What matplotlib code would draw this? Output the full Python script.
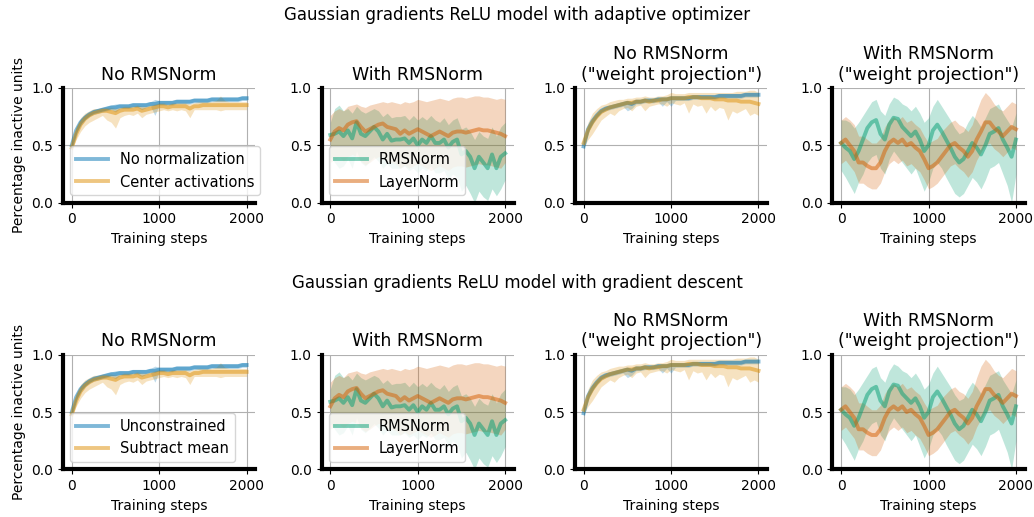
import matplotlib
matplotlib.use('Agg')
import matplotlib.pyplot as plt

steps = list(range(0, 2001, 50))

# --- panel 1: no RMSNorm ---
p1_blue_mean = [0.50, 0.63, 0.70, 0.74, 0.77, 0.79, 0.80, 0.81, 0.82, 0.83,
                0.83, 0.84, 0.84, 0.84, 0.85, 0.85, 0.85, 0.85, 0.86, 0.86,
                0.87, 0.87, 0.87, 0.87, 0.88, 0.88, 0.88, 0.88, 0.89, 0.89,
                0.89, 0.89, 0.90, 0.90, 0.90, 0.90, 0.90, 0.90, 0.90, 0.91, 0.91]
p1_blue_lo = [0.48, 0.60, 0.67, 0.72, 0.75, 0.77, 0.78, 0.79, 0.80, 0.81,
              0.79, 0.82, 0.82, 0.82, 0.83, 0.83, 0.81, 0.83, 0.84, 0.76,
              0.85, 0.85, 0.85, 0.85, 0.86, 0.86, 0.86, 0.86, 0.87, 0.87,
              0.87, 0.87, 0.88, 0.88, 0.88, 0.88, 0.88, 0.88, 0.88, 0.89, 0.89]
p1_blue_hi = [0.53, 0.66, 0.73, 0.77, 0.79, 0.81, 0.82, 0.83, 0.84, 0.85,
              0.86, 0.86, 0.86, 0.86, 0.87, 0.87, 0.87, 0.87, 0.88, 0.90,
              0.89, 0.89, 0.89, 0.89, 0.90, 0.90, 0.90, 0.90, 0.91, 0.91,
              0.91, 0.91, 0.92, 0.92, 0.92, 0.92, 0.92, 0.92, 0.92, 0.93, 0.93]
p1_orange_mean = [0.48, 0.60, 0.68, 0.73, 0.76, 0.78, 0.79, 0.80, 0.80, 0.79,
                  0.78, 0.80, 0.81, 0.81, 0.81, 0.82, 0.80, 0.81, 0.82, 0.83,
                  0.84, 0.84, 0.83, 0.84, 0.84, 0.84, 0.84, 0.82, 0.84, 0.84,
                  0.85, 0.85, 0.85, 0.85, 0.85, 0.85, 0.85, 0.85, 0.85, 0.85, 0.85]
p1_orange_lo = [0.46, 0.55, 0.62, 0.67, 0.70, 0.72, 0.74, 0.76, 0.72, 0.70,
                0.65, 0.74, 0.76, 0.77, 0.76, 0.78, 0.74, 0.77, 0.78, 0.79,
                0.80, 0.81, 0.80, 0.81, 0.80, 0.81, 0.80, 0.74, 0.81, 0.81,
                0.81, 0.81, 0.81, 0.81, 0.80, 0.81, 0.81, 0.81, 0.81, 0.81, 0.81]
p1_orange_hi = [0.52, 0.66, 0.74, 0.78, 0.80, 0.82, 0.82, 0.83, 0.83, 0.83,
                0.82, 0.83, 0.84, 0.84, 0.84, 0.85, 0.84, 0.84, 0.85, 0.86,
                0.87, 0.87, 0.86, 0.87, 0.87, 0.87, 0.87, 0.86, 0.87, 0.88,
                0.88, 0.88, 0.88, 0.89, 0.93, 0.89, 0.88, 0.88, 0.88, 0.88, 0.88]

# --- panel 2: with RMSNorm ---
p2_green_mean = [0.59, 0.60, 0.62, 0.58, 0.63, 0.56, 0.70, 0.60, 0.58, 0.62,
                 0.66, 0.62, 0.55, 0.60, 0.54, 0.55, 0.55, 0.56, 0.52, 0.56,
                 0.50, 0.55, 0.52, 0.58, 0.52, 0.52, 0.55, 0.48, 0.53, 0.55,
                 0.42, 0.45, 0.40, 0.30, 0.40, 0.35, 0.30, 0.42, 0.30, 0.40, 0.43]
p2_green_lo = [0.40, 0.35, 0.30, 0.32, 0.38, 0.30, 0.45, 0.35, 0.32, 0.36,
               0.40, 0.36, 0.30, 0.34, 0.30, 0.30, 0.30, 0.32, 0.28, 0.30,
               0.26, 0.30, 0.28, 0.32, 0.26, 0.26, 0.28, 0.20, 0.25, 0.22,
               0.10, 0.15, 0.08, 0.00, 0.10, 0.05, 0.02, 0.12, 0.06, 0.12, 0.20]
p2_green_hi = [0.70, 0.82, 0.85, 0.80, 0.82, 0.78, 0.84, 0.80, 0.78, 0.80,
               0.82, 0.80, 0.75, 0.78, 0.74, 0.75, 0.75, 0.76, 0.72, 0.76,
               0.72, 0.75, 0.72, 0.76, 0.72, 0.70, 0.74, 0.68, 0.72, 0.74,
               0.64, 0.66, 0.62, 0.55, 0.62, 0.58, 0.56, 0.66, 0.58, 0.66, 0.70]
p2_orange_mean = [0.55, 0.62, 0.65, 0.63, 0.68, 0.70, 0.71, 0.66, 0.62, 0.64,
                  0.66, 0.68, 0.69, 0.66, 0.65, 0.64, 0.60, 0.63, 0.60, 0.62,
                  0.64, 0.62, 0.60, 0.58, 0.60, 0.62, 0.60, 0.58, 0.61, 0.62,
                  0.62, 0.61, 0.62, 0.63, 0.64, 0.63, 0.63, 0.62, 0.61, 0.60, 0.58]
p2_orange_lo = [0.35, 0.38, 0.40, 0.36, 0.40, 0.42, 0.40, 0.36, 0.33, 0.35,
                0.38, 0.40, 0.40, 0.36, 0.35, 0.34, 0.30, 0.33, 0.30, 0.32,
                0.34, 0.32, 0.30, 0.28, 0.30, 0.32, 0.30, 0.28, 0.31, 0.32,
                0.32, 0.31, 0.32, 0.33, 0.34, 0.33, 0.33, 0.32, 0.31, 0.30, 0.35]
p2_orange_hi = [0.76, 0.80, 0.82, 0.80, 0.84, 0.85, 0.86, 0.84, 0.83, 0.85,
                0.86, 0.87, 0.88, 0.87, 0.88, 0.87, 0.86, 0.88, 0.87, 0.88,
                0.90, 0.89, 0.88, 0.89, 0.90, 0.91, 0.90, 0.89, 0.91, 0.92,
                0.92, 0.91, 0.92, 0.93, 0.93, 0.92, 0.92, 0.91, 0.90, 0.91, 0.90]

# --- panel 3: no RMSNorm, weight projection ---
p3_blue_mean = [0.49, 0.64, 0.71, 0.76, 0.80, 0.82, 0.83, 0.84, 0.85, 0.86,
                0.87, 0.86, 0.88, 0.88, 0.89, 0.89, 0.89, 0.90, 0.90, 0.90,
                0.91, 0.91, 0.91, 0.91, 0.91, 0.92, 0.92, 0.92, 0.92, 0.92,
                0.92, 0.93, 0.93, 0.93, 0.93, 0.93, 0.93, 0.94, 0.94, 0.94, 0.94]
p3_blue_lo = [0.47, 0.61, 0.68, 0.74, 0.78, 0.80, 0.81, 0.82, 0.83, 0.84,
              0.80, 0.82, 0.86, 0.86, 0.87, 0.87, 0.87, 0.88, 0.84, 0.88,
              0.84, 0.89, 0.89, 0.89, 0.89, 0.90, 0.90, 0.90, 0.90, 0.90,
              0.90, 0.91, 0.91, 0.91, 0.91, 0.91, 0.91, 0.92, 0.92, 0.92, 0.92]
p3_blue_hi = [0.52, 0.67, 0.74, 0.78, 0.82, 0.84, 0.85, 0.86, 0.87, 0.88,
              0.89, 0.88, 0.90, 0.90, 0.91, 0.91, 0.91, 0.92, 0.92, 0.92,
              0.93, 0.93, 0.93, 0.93, 0.93, 0.94, 0.94, 0.94, 0.94, 0.94,
              0.94, 0.95, 0.95, 0.95, 0.95, 0.95, 0.95, 0.96, 0.96, 0.96, 0.96]
p3_orange_mean = [0.52, 0.63, 0.70, 0.75, 0.79, 0.81, 0.83, 0.84, 0.85, 0.86,
                  0.87, 0.87, 0.88, 0.88, 0.89, 0.88, 0.89, 0.89, 0.90, 0.90,
                  0.91, 0.91, 0.91, 0.91, 0.92, 0.92, 0.92, 0.91, 0.91, 0.91,
                  0.90, 0.90, 0.90, 0.89, 0.89, 0.89, 0.88, 0.88, 0.88, 0.87, 0.86]
p3_orange_lo = [0.48, 0.55, 0.60, 0.66, 0.72, 0.75, 0.78, 0.76, 0.80, 0.82,
                0.83, 0.80, 0.84, 0.85, 0.80, 0.84, 0.85, 0.86, 0.86, 0.84,
                0.87, 0.86, 0.85, 0.87, 0.78, 0.86, 0.84, 0.85, 0.78, 0.84,
                0.80, 0.83, 0.82, 0.72, 0.80, 0.78, 0.80, 0.82, 0.76, 0.78, 0.76]
p3_orange_hi = [0.56, 0.70, 0.78, 0.82, 0.85, 0.86, 0.88, 0.89, 0.90, 0.90,
                0.91, 0.91, 0.92, 0.92, 0.93, 0.92, 0.92, 0.93, 0.93, 0.94,
                0.96, 0.95, 0.95, 0.95, 0.96, 0.96, 0.96, 0.96, 0.96, 0.96,
                0.96, 0.96, 0.96, 0.96, 0.96, 0.97, 0.97, 0.97, 0.98, 0.98, 0.96]

# --- panel 4: with RMSNorm, weight projection ---
p4_green_mean = [0.52, 0.48, 0.45, 0.38, 0.45, 0.55, 0.65, 0.70, 0.72, 0.60,
                 0.55, 0.68, 0.74, 0.73, 0.66, 0.62, 0.58, 0.62, 0.55, 0.45,
                 0.50, 0.63, 0.68, 0.62, 0.55, 0.48, 0.40, 0.35, 0.38, 0.45,
                 0.52, 0.48, 0.42, 0.50, 0.60, 0.62, 0.65, 0.55, 0.48, 0.40, 0.55]
p4_green_lo = [0.28, 0.22, 0.15, 0.08, 0.18, 0.25, 0.35, 0.40, 0.42, 0.30,
               0.25, 0.38, 0.45, 0.40, 0.35, 0.30, 0.25, 0.30, 0.20, 0.10,
               0.18, 0.30, 0.35, 0.30, 0.22, 0.15, 0.08, 0.05, 0.08, 0.15,
               0.22, 0.18, 0.12, 0.20, 0.30, 0.32, 0.35, 0.25, 0.15, 0.00, 0.25]
p4_green_hi = [0.72, 0.72, 0.70, 0.65, 0.70, 0.76, 0.82, 0.88, 0.90, 0.80,
               0.76, 0.86, 0.92, 0.90, 0.86, 0.84, 0.80, 0.84, 0.78, 0.70,
               0.74, 0.84, 0.90, 0.84, 0.78, 0.72, 0.65, 0.60, 0.62, 0.70,
               0.76, 0.72, 0.66, 0.74, 0.82, 0.84, 0.86, 0.78, 0.72, 0.66, 0.78]
p4_orange_mean = [0.52, 0.55, 0.50, 0.45, 0.35, 0.35, 0.32, 0.30, 0.30, 0.35,
                  0.45, 0.52, 0.55, 0.52, 0.55, 0.50, 0.52, 0.48, 0.45, 0.38,
                  0.30, 0.32, 0.35, 0.40, 0.45, 0.50, 0.52, 0.48, 0.45, 0.40,
                  0.45, 0.55, 0.62, 0.70, 0.70, 0.65, 0.62, 0.58, 0.62, 0.66, 0.64]
p4_orange_lo = [0.34, 0.37, 0.32, 0.27, 0.17, 0.17, 0.14, 0.12, 0.12, 0.17,
                0.27, 0.34, 0.37, 0.34, 0.37, 0.32, 0.34, 0.30, 0.27, 0.20,
                0.12, 0.14, 0.17, 0.22, 0.27, 0.32, 0.34, 0.30, 0.27, 0.22,
                0.27, 0.37, 0.44, 0.50, 0.52, 0.47, 0.44, 0.40, 0.44, 0.48, 0.46]
p4_orange_hi = [0.72, 0.75, 0.72, 0.68, 0.58, 0.58, 0.55, 0.52, 0.52, 0.56,
                0.66, 0.72, 0.75, 0.72, 0.75, 0.70, 0.72, 0.68, 0.65, 0.58,
                0.52, 0.54, 0.56, 0.62, 0.66, 0.70, 0.72, 0.68, 0.66, 0.62,
                0.68, 0.80, 0.90, 0.96, 0.92, 0.86, 0.82, 0.80, 0.84, 0.88, 0.86]

row_titles = ['Gaussian gradients ReLU model with adaptive optimizer',
              'Gaussian gradients ReLU model with gradient descent']
col_titles = ['No RMSNorm', 'With RMSNorm',
              'No RMSNorm\n("weight projection")',
              'With RMSNorm\n("weight projection")']
legend_first_col = [['No normalization', 'Center activations'],
                    ['Unconstrained', 'Subtract mean']]
legend_second_col = ['RMSNorm', 'LayerNorm']

blue = '#0173b2'
yellow = '#de8f05'
green = '#029e73'
orange = '#d55e00'

panels = [
    [(p1_blue_mean, p1_blue_lo, p1_blue_hi, blue),
     (p1_orange_mean, p1_orange_lo, p1_orange_hi, yellow)],
    [(p2_green_mean, p2_green_lo, p2_green_hi, green),
     (p2_orange_mean, p2_orange_lo, p2_orange_hi, orange)],
    [(p3_blue_mean, p3_blue_lo, p3_blue_hi, blue),
     (p3_orange_mean, p3_orange_lo, p3_orange_hi, yellow)],
    [(p4_green_mean, p4_green_lo, p4_green_hi, green),
     (p4_orange_mean, p4_orange_lo, p4_orange_hi, orange)],
]

fig = plt.figure(figsize=(10.34, 5.17), dpi=100)

lefts = [0.061, 0.311, 0.556, 0.805]
bottoms = [0.608, 0.092]
width = 0.186
height = 0.222

for r in range(2):
    fig.text(0.5, 1 - (15 if r == 0 else 283) / 517, row_titles[r],
             ha='center', va='center', fontsize=12)
    for c in range(4):
        ax = fig.add_axes([lefts[c], bottoms[r], width, height])
        names = None
        if c == 0:
            names = legend_first_col[r]
        elif c == 1:
            names = legend_second_col
        for i, (mean, lo, hi, col) in enumerate(panels[c]):
            label = names[i] if names else None
            ax.fill_between(steps, lo, hi, color=col, alpha=0.25, linewidth=0)
            ax.plot(steps, mean, color=col, alpha=0.5, linewidth=2.8, label=label)
        ax.set_ylim(0, 1)
        ax.set_xlim(-100, 2100)
        ax.set_xticks([0, 1000, 2000])
        ax.set_yticks([0, 0.5, 1.0])
        ax.grid(True, color='#b0b0b0', linewidth=0.8)
        ax.set_axisbelow(True)
        for side in ['top', 'right']:
            ax.spines[side].set_visible(False)
        for side in ['left', 'bottom']:
            ax.spines[side].set_linewidth(3)
        ax.tick_params(labelsize=10)
        ax.set_title(col_titles[c], fontsize=12.5)
        ax.set_xlabel('Training steps', fontsize=10)
        if c == 0:
            ax.set_ylabel('Percentage inactive units', fontsize=10)
        if names:
            ax.legend(loc='lower left', fontsize=10.5, handlelength=2.2)

fig.savefig('out.png', dpi=100)
